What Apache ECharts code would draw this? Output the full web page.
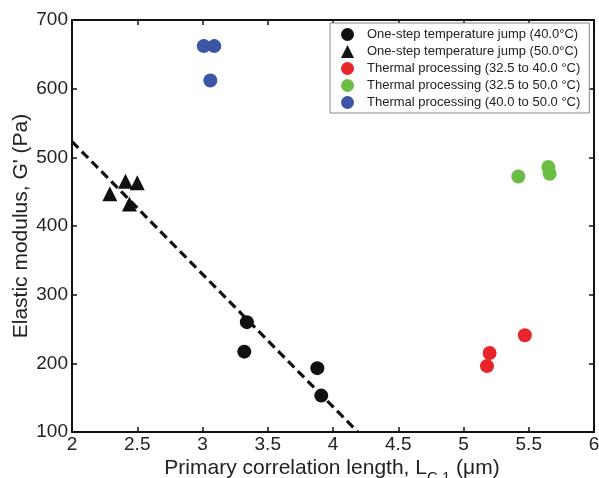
<!DOCTYPE html>
<html><head><meta charset="utf-8">
<script src="https://cdn.jsdelivr.net/npm/echarts@6/dist/echarts.min.js"></script>
<style>html,body{margin:0;padding:0;background:#fff}#c{width:599px;height:478px}</style>
</head><body><div id="c"></div>
<script>
const FONT = '"Liberation Sans", Arial, Helvetica, sans-serif';
const seriesNames = [
  'One-step temperature jump (40.0°C)',
  'One-step temperature jump (50.0°C)',
  'Thermal processing (32.5 to 40.0 °C)',
  'Thermal processing (32.5 to 50.0 °C)',
  'Thermal processing (40.0 to 50.0 °C)'
];
const oneStep40 = [[3.34, 260], [3.32, 217], [3.88, 193], [3.91, 153]];
const oneStep50 = [[2.29, 447], [2.41, 465], [2.50, 463], [2.44, 432]];
const thermal325to40 = [[5.18, 196], [5.20, 215], [5.47, 241]];
const thermal325to50 = [[5.42, 472], [5.65, 486], [5.66, 476]];
const thermal40to50 = [[3.01, 662], [3.09, 662], [3.06, 612]];
const fitLine = [[2.0, 523], [4.19, 100]];
const xTicks = {min: 2, max: 6, interval: 0.5};
const yTicks = {min: 100, max: 700, interval: 100};
const colors = ['#111111', '#111111', '#e8252b', '#6cbd45', '#3c55a5'];
const symbols = ['circle', 'triangle', 'circle', 'circle', 'circle'];
const datasets = [oneStep40, oneStep50, thermal325to40, thermal325to50, thermal40to50];

const chart = echarts.init(document.getElementById('c'), null, {renderer: 'canvas'});
const axisLine = {show: true, lineStyle: {color: '#111', width: 2}};
const tick = {show: true, inside: true, length: 5, lineStyle: {color: '#111', width: 1.5}};
const scatter = datasets.map((d, i) => ({
  name: seriesNames[i], type: 'scatter', data: d,
  symbol: symbols[i], symbolSize: i === 1 ? 15 : 14,
  itemStyle: {color: colors[i], opacity: 1}, z: 3
}));
chart.setOption({
  animation: false,
  grid: {left: 72, right: 5, top: 20, bottom: 46, containLabel: false, outerBoundsMode: 'none'},
  textStyle: {fontFamily: FONT},
  xAxis: [
    {type: 'value', position: 'bottom', min: xTicks.min, max: xTicks.max, interval: xTicks.interval,
     axisLine, axisTick: tick, splitLine: {show: false},
     axisLabel: {color: '#222', fontSize: 19, fontFamily: FONT, margin: 3}},
    {type: 'value', position: 'top', min: xTicks.min, max: xTicks.max, interval: xTicks.interval,
     axisLine, axisTick: tick, splitLine: {show: false}, axisLabel: {show: false}}
  ],
  yAxis: [
    {type: 'value', position: 'left', min: yTicks.min, max: yTicks.max, interval: yTicks.interval,
     axisLine, axisTick: tick, splitLine: {show: false},
     axisLabel: {color: '#222', fontSize: 19, fontFamily: FONT, margin: 4},
     name: "Elastic modulus, G' (Pa)", nameLocation: 'middle', nameGap: 40, nameMoveOverlap: false,
     nameTextStyle: {color: '#222', fontSize: 21, fontFamily: FONT}},
    {type: 'value', position: 'right', min: yTicks.min, max: yTicks.max, interval: yTicks.interval,
     axisLine, axisTick: tick, splitLine: {show: false}, axisLabel: {show: false}}
  ],
  legend: {
    orient: 'vertical', left: 330, top: 23, itemGap: 4, itemWidth: 13, itemHeight: 13,
    padding: [5, 9, 4, 11], borderColor: '#888', borderWidth: 1, backgroundColor: '#fff',
    data: seriesNames.map((n, i) => ({name: n, icon: symbols[i]})),
    textStyle: {color: '#222', fontSize: 13, fontFamily: FONT, padding: [0, 0, 0, 8]}
  },
  graphic: [{
    type: 'text', x: 332, y: 452, z: 10,
    style: {
      text: '{m|Primary correlation length, L}{s|C,1}{m| (μm)}',
      align: 'center', verticalAlign: 'top',
      rich: {
        m: {fontSize: 21, fontFamily: FONT, fill: '#222', color: '#222'},
        s: {fontSize: 15, fontFamily: FONT, fill: '#222', color: '#222', padding: [18, 0, 0, 0]}
      }
    }
  }],
  series: scatter.concat([{
    name: 'fit', type: 'line', data: fitLine, symbol: 'none', z: 2,
    lineStyle: {color: '#111', width: 3.2, type: [9, 5]}
  }])
});
</script></body></html>
